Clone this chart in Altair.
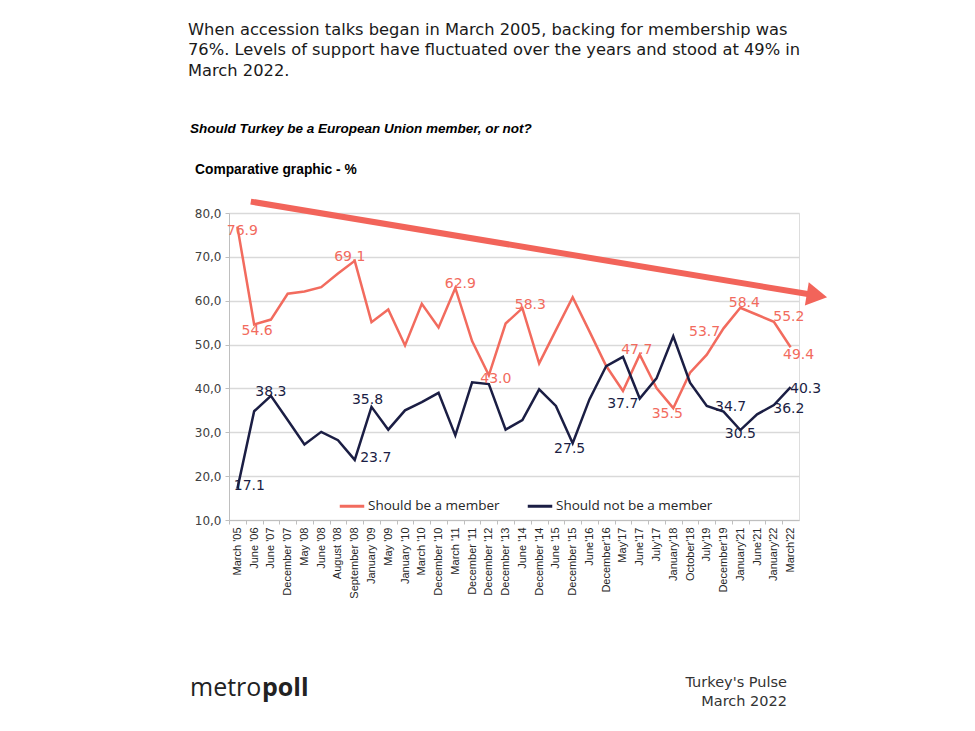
import json
import altair as alt
import pandas as pd

# ---------------- data ----------------
periods = ["March '05", "June '06", "June '07", "December '07", "May '08", "June '08",
           "August '08", "September '08", "January '09", "May '09", "January '10",
           "March '10", "December '10", "March '11", "December '11", "December '12",
           "December '13", "June '14", "December '14", "June '15", "December '15",
           "June'16", "December'16", "May'17", "June'17", "July'17", "January'18",
           "October'18", "July'19", "December'19", "January'21", "June'21",
           "January'22", "March'22"]

member = [76.9, 54.6, 55.7, 61.6, 62.1, 63.1, 66.2, 69.1, 55.1, 58.0, 49.8, 59.3,
          53.9, 62.9, 50.8, 43.0, 54.8, 58.3, 45.7, 53.3, 60.8, 53.0, 45.1, 39.4,
          47.7, 40.1, 35.5, 43.6, 47.7, 53.7, 58.4, 56.8, 55.2, 49.4]

not_member = [17.1, 34.8, 38.3, 32.8, 27.2, 30.1, 28.2, 23.7, 35.8, 30.6, 35.0, 36.9,
              39.0, 29.3, 41.4, 41.0, 30.6, 32.8, 39.8, 36.0, 27.5, 37.5, 45.1, 47.2,
              37.7, 42.3, 51.9, 41.3, 36.0, 34.7, 30.5, 34.1, 36.2, 40.3]

series_names = ["Should be a member", "Should not be a member"]

# indices of labelled points
member_label_idx = [0, 1, 7, 13, 15, 17, 24, 26, 29, 30, 32, 33]
not_member_label_idx = [0, 2, 7, 8, 20, 24, 29, 30, 32, 33]

# trend arrow (annotation, in data units)
arrow_idx = [0.8, 34.3]
arrow_val = [82.6, 61.35]
arrow_head_idx = [34.57]
arrow_head_val = [61.18]

intro_lines = ["When accession talks began in March 2005, backing for membership was",
               "76%. Levels of support have fluctuated over the years and stood at 49% in",
               "March 2022."]
question = "Should Turkey be a European Union member, or not?"
graphic_title = "Comparative graphic - %"
footer_right = ["Turkey's Pulse", "March 2022"]

# ---------------- styles ----------------
SALMON = "#F26B5E"
NAVY = "#1B1E44"
ARROW = "#F2645A"

member_offsets = {0: (5, 4), 1: (3, 7), 7: (-5, -4), 13: (5, -4), 15: (7, 4),
                  17: (8, -3), 24: (-3, -5), 26: (-6, 6), 29: (-19, 4), 30: (4, -5),
                  32: (15, -5), 33: (8, 8)}
not_member_offsets = {0: (12, -3), 2: (0, -4), 7: (21, -2), 8: (-4, -7), 20: (-3, 6),
                      24: (-17, 5), 29: (7, -5), 30: (0, 4), 32: (15, 4), 33: (15, 2)}

rows = []
for i, p in enumerate(periods):
    rows.append({"idx": i, "period": p, "value": member[i], "series": series_names[0]})
    rows.append({"idx": i, "period": p, "value": not_member[i], "series": series_names[1]})
df = pd.DataFrame(rows)

W, H = 570, 307
step = W / len(periods)

label_expr = json.dumps(periods) + "[datum.value] || ''"

xscale = alt.Scale(domain=[-0.5, len(periods) - 0.5], nice=False, zero=False)
yscale = alt.Scale(domain=[10, 80], nice=False, zero=False)

xaxis = alt.Axis(values=list(range(len(periods) + 1)), labelExpr=label_expr,
                 labelAngle=-90, tickOffset=-step / 2, labelOffset=step / 2,
                 grid=False, title=None, domainColor="#bfbfbf", tickColor="#bfbfbf",
                 tickSize=4, labelFont="Liberation Sans", labelFontSize=11,
                 labelColor="#262626", labelPadding=3, labelOverlap=False,
                 labelBound=False, labelFlush=False)
yaxis = alt.Axis(values=list(range(10, 81, 10)),
                 labelExpr="replace(format(datum.value, '.1f'), '.', ',')",
                 grid=True, gridColor="#d9d9d9", gridWidth=1.5, title=None,
                 domainColor="#bfbfbf", tickColor="#bfbfbf", tickSize=4,
                 labelFont="DejaVu Sans", labelFontSize=12, labelColor="#404040",
                 labelPadding=4)

x_enc = alt.X("idx:Q", scale=xscale, axis=xaxis)
y_enc = alt.Y("value:Q", scale=yscale, axis=yaxis)

base = alt.Chart(df)

arrow_line = alt.Chart(pd.DataFrame({"idx": arrow_idx, "value": arrow_val})).mark_line(
    color=ARROW, strokeWidth=6, strokeCap="butt").encode(x=x_enc, y=y_enc)
arrow_head = alt.Chart(pd.DataFrame({"idx": arrow_head_idx, "value": arrow_head_val})).mark_point(
    shape="triangle-right", filled=True, size=560, angle=9.4, color=ARROW, opacity=1,
    strokeWidth=0).encode(x=x_enc, y=y_enc)

lines = base.mark_line(strokeWidth=2.5).encode(
    x=x_enc, y=y_enc, order="idx:Q",
    color=alt.Color("series:N",
                    scale=alt.Scale(domain=series_names, range=[SALMON, NAVY]),
                    legend=alt.Legend(title=None, orient="none", legendX=109, legendY=279,
                                      direction="horizontal", symbolType="stroke",
                                      symbolSize=600, symbolStrokeWidth=3,
                                      labelFont="Open Sans", labelFontSize=13.5,
                                      labelColor="#262626", columnPadding=21,
                                      labelOffset=2, padding=0)))

label_layers = []
for sname, idxs, offs, col in [(series_names[0], member_label_idx, member_offsets, SALMON),
                               (series_names[1], not_member_label_idx, not_member_offsets, NAVY)]:
    for i in idxs:
        dx, dy = offs[i]
        label_layers.append(
            base.transform_filter((alt.datum.series == sname) & (alt.datum.idx == i))
            .mark_text(dx=dx, dy=dy, font="DejaVu Sans", fontSize=14, color=col,
                       align="center", baseline="middle")
            .encode(x=x_enc, y=y_enc, text=alt.Text("value:Q", format=".1f")))


def note(text, x, y, size, weight="normal", style="normal", align="left",
         font="DejaVu Sans", color="#1a1a1a", line_height=None):
    kw = dict(text=text, font=font, fontSize=size, fontWeight=weight, fontStyle=style,
              align=align, baseline="alphabetic", color=color)
    if line_height is not None:
        kw["lineHeight"] = line_height
    return alt.Chart(alt.Data(values=[{}])).mark_text(**kw).encode(
        x=alt.value(x), y=alt.value(y))


notes = [
    note(intro_lines, -41, -178, 16.3, line_height=20.4),
    note(question, -39, -80.3, 13.5, weight="bold", style="italic",
         font="Liberation Sans", color="#000000"),
    note(graphic_title, -34, -39, 13.8, weight="bold",
         font="Liberation Sans", color="#000000"),
    note("metro", -39, 483, 25, font="Open Sans", color="#222222"),
    note("poll", 33, 483, 25, weight="bold", font="Open Sans", color="#222222"),
    note(footer_right, 558, 474.3, 14.5, align="right", color="#333333", line_height=18.4),
]

chart = alt.layer(arrow_line, arrow_head, lines, *label_layers, *notes).properties(
    width=W, height=H,
    autosize=alt.AutoSizeParams(type="none"),
    padding={"left": 221, "top": 205, "right": 150, "bottom": 195},
).configure_view(stroke=None).configure(background="white")

chart.save("out.html", embed_options={"renderer": "svg", "actions": False})
